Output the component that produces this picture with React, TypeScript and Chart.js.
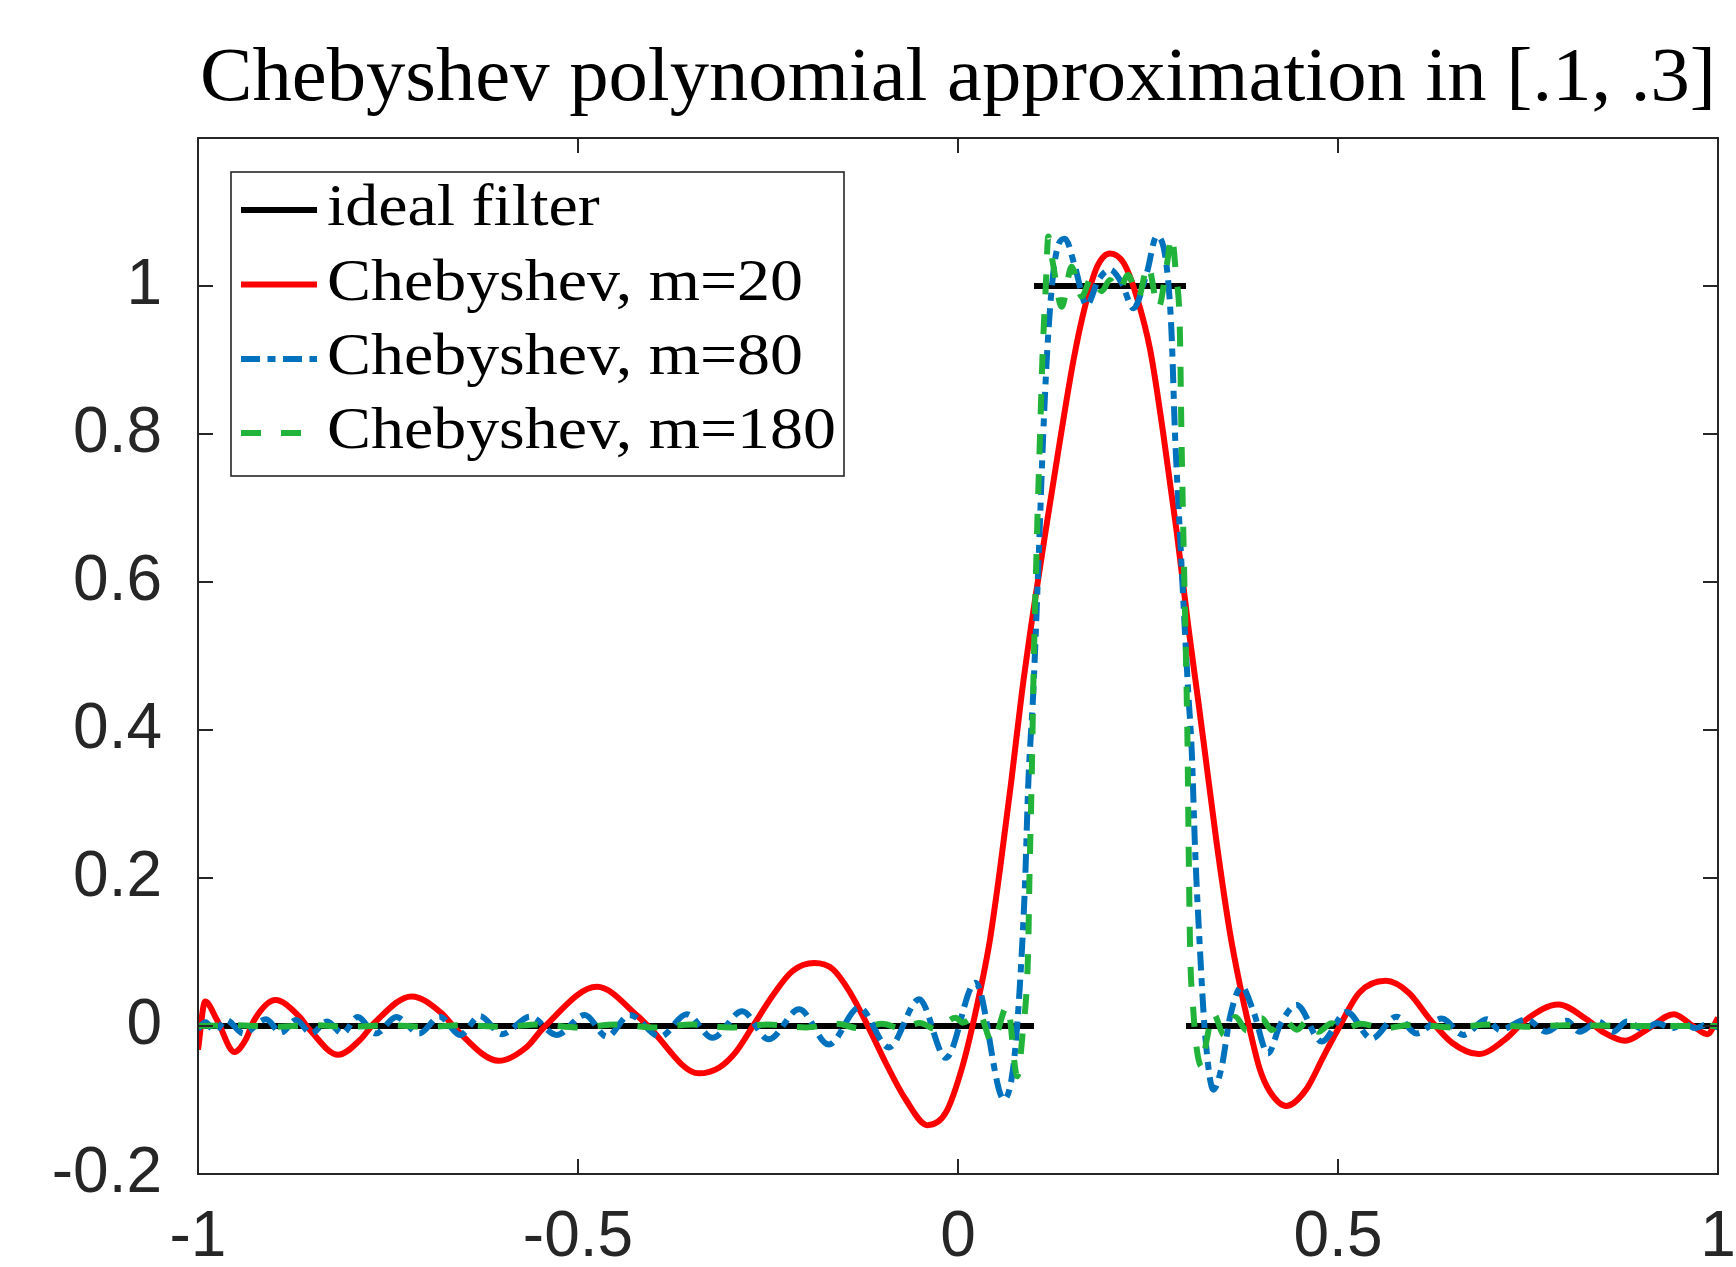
import React, { useEffect, useRef } from 'react';
import { Chart, registerables } from 'chart.js';

Chart.register(...registerables);

const W = 1736;
const H = 1267;

const titleText = 'Chebyshev polynomial approximation in [.1, .3]';
const legendLabels = ['ideal filter', 'Chebyshev, m=20', 'Chebyshev, m=80', 'Chebyshev, m=180'];

const xTickValues = [-1, -0.5, 0, 0.5, 1];
const xTickLabels = ['-1', '-0.5', '0', '0.5', '1'];
const yTickValues = [-0.2, 0, 0.2, 0.4, 0.6, 0.8, 1];
const yTickLabels = ['-0.2', '0', '0.2', '0.4', '0.6', '0.8', '1'];

// ideal filter (three separate pieces)
const idealX = [-1, 0.1, 0.1, 0.1, 0.3, 0.3, 0.3, 1];
const idealY: (number | null)[] = [0, 0, null, 1, 1, null, 0, 0];

// Chebyshev, m=20
const m20X = [
  -1, -0.9906, -0.975, -0.952, -0.9375, -0.926, -0.898, -0.867, -0.853, -0.8155,
  -0.787, -0.768, -0.719, -0.679, -0.66, -0.604, -0.567, -0.545, -0.475, -0.421,
  -0.407, -0.341, -0.314, -0.293, -0.271, -0.244, -0.218, -0.189, -0.165, -0.143,
  -0.121, -0.095, -0.069, -0.04, -0.016, 0.006, 0.023, 0.041, 0.055, 0.07,
  0.084, 0.099, 0.117, 0.134, 0.152, 0.167, 0.183, 0.2, 0.218, 0.235,
  0.253, 0.27, 0.288, 0.303, 0.316, 0.323, 0.34, 0.358, 0.371, 0.384,
  0.397, 0.41, 0.432, 0.458, 0.481, 0.5, 0.528, 0.563, 0.593, 0.621,
  0.65, 0.685, 0.72, 0.748, 0.79, 0.827, 0.85, 0.878, 0.907, 0.942,
  0.967, 0.986, 1.0,
];
const m20Y = [
  -0.032, 0.033, 0.008, -0.035, -0.019, 0.008, 0.035, 0.013, -0.005, -0.039,
  -0.019, 0.004, 0.04, 0.017, -0.005, -0.047, -0.028, -0.002, 0.053, 0.013,
  -0.001, -0.064, -0.056, -0.036, -0.002, 0.041, 0.074, 0.085, 0.077, 0.047,
  0.005, -0.05, -0.099, -0.134, -0.117, -0.054, 0.018, 0.11, 0.21, 0.33,
  0.45, 0.56, 0.68, 0.79, 0.9, 0.972, 1.026, 1.044, 1.031, 0.986,
  0.913, 0.801, 0.666, 0.54, 0.44, 0.385, 0.25, 0.125, 0.055, -0.005,
  -0.058, -0.088, -0.108, -0.086, -0.041, -0.0045, 0.045, 0.061, 0.045, 0.009,
  -0.0226, -0.038, -0.018, 0.009, 0.029, 0.009, -0.009, -0.02, -0.0045, 0.016,
  0.0, -0.011, 0.011,
];

// Chebyshev, m=80
const m80X = [
  -1, -0.99, -0.978, -0.963, -0.94, -0.9105, -0.891, -0.871, -0.851, -0.83,
  -0.81, -0.79, -0.766, -0.739, -0.709, -0.682, -0.655, -0.629, -0.6, -0.563,
  -0.528, -0.491, -0.462, -0.432, -0.392, -0.357, -0.323, -0.284, -0.249, -0.209,
  -0.17, -0.13, -0.091, -0.051, -0.016, 0.023, 0.0605, 0.0728, 0.0816, 0.0882,
  0.0925, 0.099, 0.1057, 0.1122, 0.1188, 0.1276, 0.1408, 0.1539, 0.1693, 0.1846,
  0.2, 0.2154, 0.2307, 0.2483, 0.2614, 0.2746, 0.281, 0.2855, 0.292, 0.2987,
  0.303, 0.3075, 0.312, 0.3184, 0.325, 0.336, 0.347, 0.358, 0.3733, 0.3886,
  0.408, 0.4237, 0.4456, 0.4785, 0.5114, 0.5443, 0.577, 0.6035, 0.6364, 0.665,
  0.6956, 0.713, 0.748, 0.774, 0.801, 0.818, 0.8425, 0.862, 0.88, 0.902,
  0.92, 0.94, 0.955, 0.97, 0.985, 1.0,
];
const m80Y = [
  -0.004, 0.005, -0.007, 0.008, -0.01, 0.009, -0.009, 0.008, -0.01, 0.006,
  -0.01, 0.012, -0.01, 0.012, -0.01, 0.0126, -0.012, 0.0135, -0.011, 0.0126,
  -0.012, 0.015, -0.0144, 0.015, -0.0144, 0.016, -0.016, 0.02, -0.018, 0.0225,
  -0.025, 0.025, -0.029, 0.036, -0.043, 0.0585, -0.099, -0.055, 0.058, 0.193,
  0.328, 0.45, 0.621, 0.801, 0.936, 1.035, 1.064, 1.026, 0.974, 1.008,
  1.022, 1.004, 0.97, 1.017, 1.067, 1.026, 0.936, 0.801, 0.666, 0.531,
  0.45, 0.373, 0.238, 0.103, -0.0095, -0.086, -0.055, 0.0126, 0.053, 0.02,
  -0.037, 0.0014, 0.0284, -0.021, 0.019, -0.017, 0.0126, -0.01, 0.01, -0.012,
  0.009, -0.0054, 0.009, -0.0077, 0.0072, -0.0077, 0.006, -0.0077, 0.006, -0.0045,
  0.0036, -0.003, 0.003, -0.003, 0.002, -0.002,
];

// Chebyshev, m=180
const m180X = [
  -1, -0.95, -0.9, -0.85, -0.8, -0.75, -0.7, -0.65, -0.6, -0.55,
  -0.5, -0.45, -0.4, -0.35, -0.3, -0.25, -0.2, -0.16, -0.13, -0.1,
  -0.075, -0.05, -0.03, -0.003, 0.006, 0.028, 0.045, 0.065, 0.078, 0.086,
  0.09, 0.0925, 0.094, 0.0969, 0.0995, 0.104, 0.108, 0.111, 0.1155, 0.1188,
  0.125, 0.1364, 0.1496, 0.1627, 0.176, 0.189, 0.2, 0.211, 0.224, 0.237,
  0.25, 0.2636, 0.275, 0.281, 0.287, 0.292, 0.294, 0.2965, 0.2995, 0.302,
  0.3035, 0.3055, 0.309, 0.314, 0.3206, 0.327, 0.336, 0.35, 0.365, 0.38,
  0.3996, 0.413, 0.428, 0.446, 0.461, 0.474, 0.4917, 0.505, 0.53, 0.56,
  0.6, 0.65, 0.7, 0.75, 0.8, 0.9, 1.0,
];
const m180Y = [
  0, 0.001, -0.001, 0.001, -0.001, 0.001, -0.001, 0.001, -0.001, 0.002,
  -0.002, 0.002, -0.002, 0.002, -0.002, 0.002, -0.002, 0.003, -0.003, 0.003,
  -0.003, 0.004, -0.004, 0.011, 0.0045, 0.016, -0.0225, 0.027, -0.068, 0.0,
  0.045, 0.11, 0.2, 0.33, 0.48, 0.666, 0.8, 0.9, 1.0, 1.067,
  1.03, 0.972, 1.026, 0.986, 1.012, 0.993, 1.008, 0.993, 1.015, 0.984,
  1.028, 0.97, 1.03, 1.067, 1.013, 0.936, 0.8, 0.666, 0.52, 0.38,
  0.24, 0.1, 0.03, -0.03, -0.055, -0.02, 0.017, -0.012, 0.012, -0.006,
  0.0104, -0.0054, 0.0095, -0.005, 0.008, -0.0077, 0.0036, -0.0054, 0.003, -0.003,
  0.002, -0.002, 0.002, -0.001, 0.001, 0, 0,
];

const AXIS_COLOR = '#262626';
const BLACK = '#000000';
const RED = '#ff0000';
const BLUE = '#0072bd';
const GREEN = '#22b33a';
const LINE_W = 6;
const BLUE_DASH = [19, 7.5, 8, 7.5];
const GREEN_DASH = [20, 20];

const zip = (xs: number[], ys: (number | null)[]) => xs.map((x, i) => ({ x, y: ys[i] }));

const seriesStyles = [
  { color: BLACK, dash: [] as number[] },
  { color: RED, dash: [] as number[] },
  { color: BLUE, dash: BLUE_DASH },
  { color: GREEN, dash: GREEN_DASH },
];

function drawStretched(ctx: CanvasRenderingContext2D, text: string, x: number, y: number, sx: number) {
  ctx.save();
  ctx.translate(x, y);
  ctx.scale(sx, 1);
  ctx.fillText(text, 0, 0);
  ctx.restore();
}

const framePlugin = {
  id: 'frameTicks',
  afterDatasetsDraw(chart: any) {
    const { ctx, chartArea } = chart;
    const xs = chart.scales.x;
    const ys = chart.scales.y;
    const L = 15;
    ctx.save();
    ctx.strokeStyle = AXIS_COLOR;
    ctx.lineWidth = 2;
    ctx.setLineDash([]);
    ctx.beginPath();
    for (const v of xTickValues) {
      const px = xs.getPixelForValue(v);
      ctx.moveTo(px, chartArea.bottom);
      ctx.lineTo(px, chartArea.bottom - L);
      ctx.moveTo(px, chartArea.top);
      ctx.lineTo(px, chartArea.top + L);
    }
    for (const v of yTickValues) {
      const py = ys.getPixelForValue(v);
      ctx.moveTo(chartArea.left, py);
      ctx.lineTo(chartArea.left + L, py);
      ctx.moveTo(chartArea.right, py);
      ctx.lineTo(chartArea.right - L, py);
    }
    ctx.stroke();
    ctx.strokeRect(chartArea.left, chartArea.top, chartArea.right - chartArea.left, chartArea.bottom - chartArea.top);
    ctx.restore();
  },
};

const textPlugin = {
  id: 'titleLegend',
  afterDraw(chart: any) {
    const { ctx, chartArea } = chart;
    ctx.save();
    // title
    ctx.fillStyle = '#000';
    ctx.textBaseline = 'alphabetic';
    ctx.textAlign = 'left';
    ctx.font = '77px "Liberation Serif"';
    const tw = ctx.measureText(titleText).width;
    const targetTitle = 1516;
    const tsx = targetTitle / tw;
    const tx = (chartArea.left + chartArea.right) / 2 - targetTitle / 2;
    drawStretched(ctx, titleText, tx, 100, tsx);

    // legend box
    const bx = 231, by = 172, bw = 613, bh = 304;
    ctx.fillStyle = '#ffffff';
    ctx.fillRect(bx, by, bw, bh);
    ctx.strokeStyle = AXIS_COLOR;
    ctx.lineWidth = 1.6;
    ctx.strokeRect(bx, by, bw, bh);

    ctx.font = '60px "Liberation Serif"';
    const lw = ctx.measureText(legendLabels[1]).width;
    const lsx = 476 / lw;
    const rows = [210, 284.5, 359, 433];
    rows.forEach((cy, i) => {
      const st = seriesStyles[i];
      ctx.save();
      ctx.strokeStyle = st.color;
      ctx.lineWidth = LINE_W;
      ctx.lineCap = 'butt';
      ctx.setLineDash(st.dash);
      ctx.beginPath();
      ctx.moveTo(241, cy);
      ctx.lineTo(317, cy);
      ctx.stroke();
      ctx.restore();
      ctx.fillStyle = '#000';
      drawStretched(ctx, legendLabels[i], 327, cy + 15, lsx);
    });
    ctx.restore();
  },
};

export default function App() {
  const ref = useRef<HTMLCanvasElement | null>(null);

  useEffect(() => {
    const canvas = ref.current;
    if (!canvas) return;
    const common = {
      pointRadius: 0,
      pointHoverRadius: 0,
      borderWidth: LINE_W,
      fill: false,
      spanGaps: false,
      borderCapStyle: 'butt' as const,
      borderJoinStyle: 'round' as const,
    };
    const chart = new Chart(canvas, {
      type: 'line',
      data: {
        datasets: [
          { ...common, label: legendLabels[0], data: zip(idealX, idealY), borderColor: BLACK, order: 4, tension: 0 },
          { ...common, label: legendLabels[1], data: zip(m20X, m20Y), borderColor: RED, order: 3, cubicInterpolationMode: 'monotone' },
          { ...common, label: legendLabels[2], data: zip(m80X, m80Y), borderColor: BLUE, borderDash: BLUE_DASH, order: 2, cubicInterpolationMode: 'monotone' },
          { ...common, label: legendLabels[3], data: zip(m180X, m180Y), borderColor: GREEN, borderDash: GREEN_DASH, order: 1, cubicInterpolationMode: 'monotone' },
        ] as any,
      },
      options: {
        responsive: false,
        maintainAspectRatio: false,
        animation: false,
        devicePixelRatio: 1,
        layout: { padding: { top: 138, right: 18, left: 0, bottom: 0 } },
        plugins: {
          legend: { display: false },
          title: { display: false },
          tooltip: { enabled: false },
        },
        events: [],
        scales: {
          x: {
            type: 'linear',
            min: -1,
            max: 1,
            grid: { display: false, drawTicks: false },
            border: { display: false },
            afterBuildTicks: (scale: any) => {
              scale.ticks = xTickValues.map((v) => ({ value: v }));
            },
            afterFit: (scale: any) => {
              scale.height = 93;
              scale.paddingLeft = 0;
              scale.paddingRight = 0;
            },
            ticks: {
              autoSkip: false,
              maxRotation: 0,
              minRotation: 0,
              padding: 26,
              color: AXIS_COLOR,
              font: { family: '"Liberation Sans"', size: 64 },
              callback: (_v: any, i: number) => xTickLabels[i],
            },
          },
          y: {
            type: 'linear',
            min: -0.2,
            max: 1.2,
            grid: { display: false, drawTicks: false },
            border: { display: false },
            afterBuildTicks: (scale: any) => {
              scale.ticks = yTickValues.map((v) => ({ value: v }));
            },
            afterFit: (scale: any) => {
              scale.width = 198;
              scale.paddingTop = 0;
              scale.paddingBottom = 0;
            },
            ticks: {
              autoSkip: false,
              padding: 36,
              color: AXIS_COLOR,
              font: { family: '"Liberation Sans"', size: 64 },
              callback: (_v: any, i: number) => yTickLabels[i],
            },
          },
        },
      } as any,
      plugins: [framePlugin, textPlugin],
    });
    return () => chart.destroy();
  }, []);

  return (
    <div style={{ position: 'fixed', left: 0, top: 0, width: W, height: H, background: '#ffffff' }}>
      <canvas ref={ref} width={W} height={H} style={{ width: W, height: H, display: 'block' }} />
    </div>
  );
}
